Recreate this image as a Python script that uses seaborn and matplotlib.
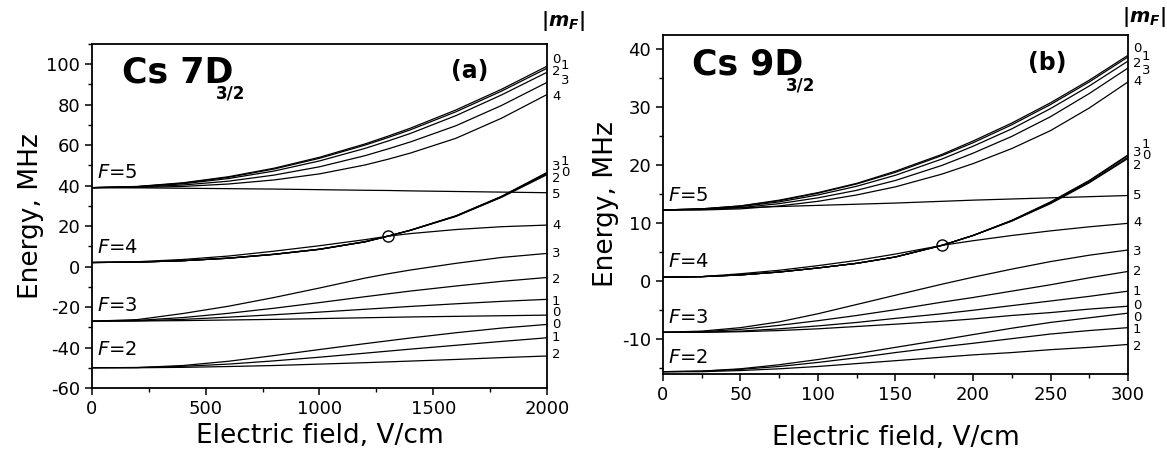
import matplotlib
matplotlib.use("Agg")
import matplotlib.pyplot as plt
from matplotlib.ticker import MultipleLocator
import seaborn as sns
import pandas as pd

# ---- panel (a): Cs 7D3/2, field 0..2000 V/cm ----
field_a = [0, 200, 400, 600, 800, 1000, 1200, 1300, 1400, 1600, 1800, 2000]
a_F5 = {
    0: [39, 39.6, 41.4, 44.4, 48.6, 54.0, 60.6, 64.4, 68.4, 77.4, 87.6, 99.0],
    1: [39, 39.5, 41.2, 44.1, 48.2, 53.5, 60.0, 63.7, 67.6, 76.5, 86.7, 98.0],
    2: [39, 39.5, 40.9, 43.5, 47.2, 52.2, 58.4, 62.0, 65.8, 74.6, 84.8, 96.0],
    3: [39, 39.3, 40.3, 42.2, 45.2, 49.3, 54.8, 58.1, 61.6, 69.6, 79.6, 91.0],
    4: [39, 39.1, 39.6, 40.8, 42.8, 45.8, 50.2, 53.0, 56.1, 63.4, 73.3, 85.0],
    5: [39, 38.9, 38.7, 38.5, 38.3, 38.0, 37.7, 37.6, 37.4, 37.1, 36.8, 36.5],
}
a_F4 = {
    0: [2, 2.2, 2.9, 4.2, 6.1, 8.6, 12.3, 15.0, 18.0, 25.1, 34.7, 46.5],
    1: [2, 2.2, 2.9, 4.2, 6.1, 8.6, 12.3, 15.0, 18.0, 25.0, 34.6, 46.2],
    2: [2, 2.2, 2.9, 4.1, 6.0, 8.5, 12.2, 15.0, 17.9, 24.9, 34.4, 45.8],
    3: [2, 2.2, 2.9, 4.1, 6.0, 8.5, 12.2, 15.0, 17.9, 24.8, 34.2, 45.4],
    4: [2, 2.4, 3.5, 5.2, 7.6, 10.3, 13.3, 15.0, 16.3, 18.3, 19.7, 20.5],
}
a_F3 = {
    3: [-27, -26.2, -23.2, -19.6, -15.3, -10.6, -5.7, -3.6, -1.7, 1.6, 4.5, 6.5],
    2: [-27, -26.6, -25.2, -23.1, -20.6, -17.8, -14.9, -13.5, -12.1, -9.6, -7.3, -5.4],
    1: [-27, -26.8, -26.1, -25.0, -23.8, -22.5, -21.1, -20.4, -19.7, -18.4, -17.2, -16.2],
    0: [-27, -26.9, -26.7, -26.4, -26.1, -25.7, -25.3, -25.1, -24.9, -24.6, -24.3, -24.0],
}
a_F2 = {
    0: [-50, -49.9, -48.9, -46.8, -44.0, -41.0, -38.1, -36.7, -35.3, -32.7, -30.4, -28.6],
    1: [-50, -49.9, -49.3, -48.2, -46.6, -44.8, -42.8, -41.8, -40.8, -38.9, -37.0, -35.2],
    2: [-50, -50.0, -49.8, -49.4, -48.9, -48.2, -47.5, -47.1, -46.7, -45.9, -45.0, -44.2],
}
cross_a = [1300, 15]
mlabels_a = ["0", "1", "2", "3", "4", "3", "1", "2", "0", "5", "4",
             "3", "2", "1", "0", "0", "1", "2"]
mlabel_y_a = [102.4, 99.2, 96.3, 92.1, 84.0, 49.6, 51.9, 43.3, 46.4, 35.6, 20.2,
              6.4, -6.4, -17.3, -22.6, -28.8, -35.0, -43.5]
mlabel_col_a = [0, 1, 0, 1, 0, 0, 1, 0, 1, 0, 0, 0, 0, 0, 0, 0, 0, 0]
flabel_y_a = [46.4, 9.4, -19.3, -41.0]

# ---- panel (b): Cs 9D3/2, field 0..300 V/cm ----
field_b = [0, 25, 50, 75, 100, 125, 150, 180, 200, 225, 250, 275, 300]
b_F5 = {
    0: [12.3, 12.5, 13.0, 14.0, 15.3, 16.9, 19.0, 21.9, 24.2, 27.3, 30.8, 34.7, 39.0],
    1: [12.3, 12.5, 13.0, 13.9, 15.2, 16.8, 18.8, 21.7, 23.9, 27.0, 30.5, 34.4, 38.7],
    2: [12.3, 12.4, 12.9, 13.7, 14.9, 16.4, 18.3, 21.1, 23.3, 26.3, 29.8, 33.7, 38.0],
    3: [12.3, 12.4, 12.7, 13.4, 14.4, 15.7, 17.4, 20.0, 22.1, 25.0, 28.4, 32.4, 36.8],
    4: [12.3, 12.3, 12.5, 13.0, 13.8, 14.9, 16.3, 18.5, 20.3, 22.9, 26.0, 29.9, 34.4],
    5: [12.3, 12.5, 12.7, 12.9, 13.1, 13.3, 13.5, 13.8, 14.0, 14.2, 14.4, 14.6, 14.8],
}
b_F4 = {
    0: [0.7, 0.8, 1.1, 1.6, 2.3, 3.1, 4.2, 6.2, 7.9, 10.5, 13.7, 17.4, 21.8],
    1: [0.7, 0.8, 1.1, 1.6, 2.3, 3.1, 4.2, 6.2, 7.9, 10.5, 13.6, 17.3, 21.7],
    2: [0.7, 0.8, 1.1, 1.6, 2.3, 3.1, 4.2, 6.2, 7.9, 10.4, 13.5, 17.1, 21.4],
    3: [0.7, 0.8, 1.1, 1.6, 2.3, 3.1, 4.2, 6.2, 7.9, 10.4, 13.4, 17.0, 21.2],
    4: [0.7, 0.8, 1.3, 1.9, 2.7, 3.6, 4.7, 6.2, 7.0, 7.9, 8.7, 9.4, 10.0],
}
b_F3 = {
    3: [-8.8, -8.6, -8.0, -7.0, -5.6, -4.0, -2.4, -0.5, 0.7, 2.1, 3.4, 4.5, 5.4],
    2: [-8.8, -8.7, -8.3, -7.6, -6.8, -5.9, -4.9, -3.6, -2.8, -1.7, -0.6, 0.6, 1.7],
    1: [-8.8, -8.8, -8.6, -8.2, -7.7, -7.1, -6.4, -5.6, -5.0, -4.2, -3.4, -2.6, -1.7],
    0: [-8.8, -8.8, -8.7, -8.5, -8.2, -7.8, -7.4, -6.9, -6.5, -5.9, -5.4, -4.8, -4.3],
}
b_F2 = {
    0: [-15.6, -15.5, -15.1, -14.4, -13.5, -12.5, -11.4, -10.1, -9.2, -8.1, -7.1, -6.3, -5.5],
    1: [-15.6, -15.5, -15.2, -14.7, -14.0, -13.2, -12.3, -11.3, -10.7, -9.9, -9.1, -8.5, -8.0],
    2: [-15.6, -15.6, -15.4, -15.1, -14.7, -14.2, -13.7, -13.1, -12.7, -12.3, -11.8, -11.4, -10.9],
}
cross_b = [180, 6.2]
mlabels_b = ["0", "1", "2", "3", "4", "3", "1", "2", "0", "5", "4",
             "3", "2", "1", "0", "0", "1", "2"]
mlabel_y_b = [40.1, 38.8, 37.6, 36.4, 34.5, 22.2, 23.6, 20.0, 21.7, 14.8, 10.1,
              5.1, 1.7, -1.7, -4.2, -6.3, -8.4, -11.3]
mlabel_col_b = [0, 1, 0, 1, 0, 0, 1, 0, 1, 0, 0, 0, 0, 0, 0, 0, 0, 0]
flabel_y_b = [14.8, 3.4, -6.3, -13.2]

flabels = ["$F$=5", "$F$=4", "$F$=3", "$F$=2"]


def to_frame(field, groups):
    rows = []
    for F, curves in groups.items():
        for m, energy in curves.items():
            for x, y in zip(field, energy):
                rows.append((f"F{F}m{m}", x, y))
    return pd.DataFrame(rows, columns=["curve", "field", "energy"])


sns.set_theme(style="ticks")
plt.rcParams["font.family"] = ["DejaVu Sans"]
plt.rcParams["mathtext.fontset"] = "custom"
plt.rcParams["mathtext.rm"] = "DejaVu Sans"
plt.rcParams["mathtext.it"] = "DejaVu Sans:italic"
plt.rcParams["mathtext.bf"] = "DejaVu Sans:bold"
plt.rcParams["mathtext.bfit"] = "DejaVu Sans:italic:bold"
plt.rcParams["axes.unicode_minus"] = False
for key in ["text.color", "axes.labelcolor", "xtick.color", "ytick.color",
            "xtick.labelcolor", "ytick.labelcolor"]:
    plt.rcParams[key] = "black"

fig = plt.figure(figsize=(11.67, 4.61), dpi=100)
ax_a = fig.add_axes([0.0788, 0.1584, 0.3899, 0.7462])
ax_b = fig.add_axes([0.5681, 0.1887, 0.3985, 0.7354])

panels = [
    (ax_a, field_a, {5: a_F5, 4: a_F4, 3: a_F3, 2: a_F2}, cross_a,
     mlabels_a, mlabel_y_a, mlabel_col_a, flabel_y_a,
     (0, 2000), (-60, 110), 500, 250, 20, 10, "7", (132, 91), (1662, 96.5), "(a)", 22, 4, 1.068),
    (ax_b, field_b, {5: b_F5, 4: b_F4, 3: b_F3, 2: b_F2}, cross_b,
     mlabels_b, mlabel_y_b, mlabel_col_b, flabel_y_b,
     (0, 300), (-16, 42.5), 50, 25, 10, 5, "9", (19, 35.7), (248, 37.7), "(b)", 3, 15, 1.052),
]

for (ax, field, groups, cross, mlab, mly, mlc, fly, xlim, ylim,
     xmaj, xmin, ymaj, ymin, n, title_xy, tag_xy, tag, fx, xpad, my) in panels:
    df = to_frame(field, groups)
    sns.lineplot(data=df, x="field", y="energy", units="curve", estimator=None,
                 color="black", lw=0.9, ax=ax, legend=False)
    ax.plot(cross[0], cross[1], "o", ms=8, mfc="none", mec="black", mew=1.0)

    ax.set_xlim(*xlim)
    ax.set_ylim(*ylim)
    ax.xaxis.set_major_locator(MultipleLocator(xmaj))
    ax.xaxis.set_minor_locator(MultipleLocator(xmin))
    ax.yaxis.set_major_locator(MultipleLocator(ymaj))
    ax.yaxis.set_minor_locator(MultipleLocator(ymin))
    ax.tick_params(which="major", direction="out", length=5, width=1.1, labelsize=13, color="black")
    ax.tick_params(which="minor", direction="out", length=3, width=1.0, color="black")
    for s in ax.spines.values():
        s.set_linewidth(1.3)
        s.set_color("black")
    ax.set_xlabel("Electric field, V/cm", fontsize=19, labelpad=xpad)
    ax.set_ylabel("Energy, MHz", fontsize=19, labelpad=2)

    # state labels
    main = ax.text(title_xy[0], title_xy[1], f"Cs {n}D", fontsize=25, fontweight="bold",
                   va="baseline", ha="left")
    ax.annotate("3/2", xy=(1, 0), xycoords=main, xytext=(-18, -9),
                textcoords="offset pixels", fontsize=12, fontweight="bold", va="baseline")
    ax.text(tag_xy[0], tag_xy[1], tag, fontsize=17, fontweight="bold", ha="center", va="center")

    for lab, y in zip(flabels, fly):
        ax.text(fx, y, lab, fontsize=14, ha="left", va="center")

    # |mF| labels on right edge
    for lab, y, c in zip(mlab, mly, mlc):
        ax.annotate(lab, xy=(1, y), xycoords=("axes fraction", "data"),
                    xytext=(5 + 9 * c, 0), textcoords="offset pixels",
                    fontsize=9.5, ha="left", va="center", annotation_clip=False)
    ax.text(1.035, my, r"$\mathbf{|}\mathbfit{m}_{\mathbfit{F}}\mathbf{|}$",
            transform=ax.transAxes, fontsize=14, ha="center", va="center")

fig.savefig("out.png", dpi=100, facecolor="white")
